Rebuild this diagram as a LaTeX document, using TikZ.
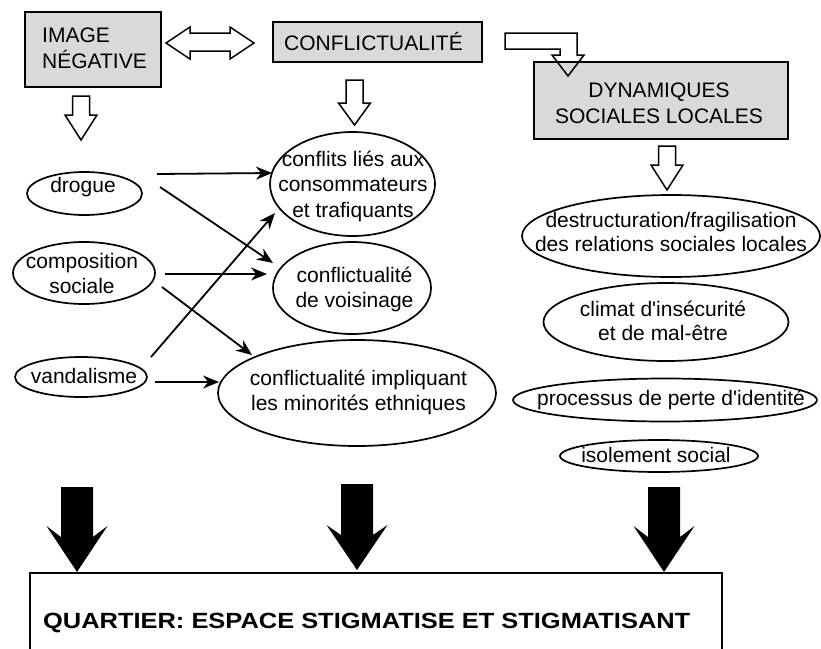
\documentclass[tikz,border=0pt]{standalone}
\usepackage{fontspec}
\setmainfont{Liberation Sans}[Ligatures=TeXOff]
\usetikzlibrary{shapes.geometric,arrows.meta,calc}
\definecolor{boxgray}{RGB}{217,217,217}
% hollow down arrow: x, top, head base, tip
\newcommand\hollowdn[4]{%
  \draw[hollow] (#1-8.5,#2) -- (#1-8.5,#3) -- (#1-16,#3) -- (#1,#4) -- (#1+16,#3) -- (#1+8.5,#3) -- (#1+8.5,#2) -- cycle;}
% black down arrow: x, top, barb y, join y, tip
\newcommand\blackdn[5]{%
  \fill[black] (#1-16,#2) -- (#1-16,#4) -- (#1-30.5,#3) -- (#1,#5) -- (#1+30.5,#3) -- (#1+16,#4) -- (#1+16,#2) -- cycle;}
\begin{document}
\begin{tikzpicture}[x=1pt,y=-1pt,
  every node/.style={font=\fontsize{21}{25}\selectfont, inner sep=0pt},
  greybox/.style={draw, line width=1.8pt, fill=boxgray, rectangle},
  oval/.style={draw, line width=1.7pt, ellipse},
  txt/.style={anchor=base, align=center},
  conn/.style={line width=1.8pt, -{Stealth[length=16pt,width=13pt]}},
  hollow/.style={draw, line width=1.5pt, line join=miter},
]
\useasboundingbox (0,0) rectangle (821,648);
\clip (0,0) rectangle (821,648);

% top boxes
\node[greybox, minimum width=136pt, minimum height=75pt] (imgneg) at (93,49.5) {};
\node[anchor=base west, align=left, font=\fontsize{21}{26}\selectfont] (imgnegT) at (42,68) {IMAGE\\NÉGATIVE};
\node[greybox, minimum width=209pt, minimum height=40pt] (conf) at (377.5,42) {};
\node[txt] (confT) at (373.5,50) {CONFLICTUALITÉ};
\node[greybox, minimum width=254pt, minimum height=77pt] (dyn) at (661,100.5) {};
\node[txt, font=\fontsize{21}{26}\selectfont] (dynT) at (659,123) {DYNAMIQUES\\SOCIALES LOCALES};

% double arrow
\draw[hollow] (166,43) -- (190,27) -- (190,33) -- (230,33) -- (230,27) -- (254,43) -- (230,59) -- (230,51) -- (190,51) -- (190,59) -- cycle;
% bent arrow
\draw[hollow] (505,33) -- (577,33) -- (577,55) -- (584,55) -- (568,76) -- (552,55) -- (560,55) -- (560,49) -- (505,49) -- cycle;
% hollow down arrows
\hollowdn{81}{96}{115}{140}
\hollowdn{354.5}{80}{103}{125}
\hollowdn{667}{146}{165}{190}

% left ellipses
\node[oval, minimum width=115pt, minimum height=43pt] (drogue) at (84.5,193.5) {};
\node[txt] (drogueT) at (83,192) {drogue};
\node[oval, minimum width=142pt, minimum height=62pt] (compo) at (84,273) {};
\node[txt] (compoT) at (82,293) {composition\\sociale};
\node[oval, minimum width=132pt, minimum height=40pt] (vand) at (81,377) {};
\node[txt] (vandT) at (84,383) {vandalisme};

% middle ellipses
\node[oval, minimum width=165pt, minimum height=104pt] (confl) at (352.5,184) {};
\node[txt, font=\fontsize{21}{25.5}\selectfont] (conflT) at (353,217) {conflits liés aux\\consommateurs\\et trafiquants};
\node[oval, minimum width=158pt, minimum height=92pt] (voisin) at (352,288) {};
\node[txt, font=\fontsize{21}{24.5}\selectfont] (voisinT) at (354.5,307) {conflictualité\\de voisinage};
\node[oval, minimum width=278pt, minimum height=106pt] (minor) at (357,393) {};
\node[txt] (minorT) at (358.5,410) {conflictualité impliquant\\les minorités ethniques};

% right ellipses
\node[oval, minimum width=298pt, minimum height=82pt] (destr) at (671,236) {};
\node[txt, font=\fontsize{21}{24}\selectfont] (destrT) at (671,251) {destructuration/fragilisation\\des relations sociales locales};
\node[oval, minimum width=245pt, minimum height=78pt] (climat) at (666,322) {};
\node[txt, font=\fontsize{21}{23.5}\selectfont] (climatT) at (663,340) {climat d'insécurité\\et de mal-être};
\node[oval, minimum width=304pt, minimum height=43pt] (process) at (665,400) {};
\node[txt] (processT) at (671,405) {processus de perte d'identité};
\node[oval, minimum width=198pt, minimum height=32pt] (isol) at (659,456) {};
\node[txt] (isolT) at (656,462) {isolement social};

% connectors
\draw[conn] ($(drogue.center)+(72.5,-19.5)$) -- ($(confl.center)+(-80.5,-11)$);
\draw[conn] ($(drogue.center)+(75.5,-6.5)$) -- ($(voisin.center)+(-79,-25)$);
\draw[conn] ($(compo.center)+(81,1)$) -- ($(voisin.center)+(-85,-14)$);
\draw[conn] ($(compo.center)+(78,14)$) -- ($(minor.center)+(-105,-38)$);
\draw[conn] ($(vand.center)+(70,-20)$) -- ($(confl.center)+(-77.5,29)$);
\draw[conn] ($(vand.center)+(74,5)$) -- ($(minor.center)+(-138,-11)$);

% black arrows
\blackdn{77}{487}{526}{537}{572}
\blackdn{357}{484}{525}{535}{570}
\blackdn{664}{487}{526}{537}{572}

% bottom box
\node[draw, line width=1.8pt, rectangle, minimum width=692pt, minimum height=107pt] (quart) at (376,626.5) {};
\node[anchor=base west] (quartT) at (43,628) {\resizebox{647pt}{\height}{\fontsize{22}{26}\selectfont\bfseries QUARTIER: ESPACE STIGMATISE ET STIGMATISANT}};
\end{tikzpicture}
\end{document}
